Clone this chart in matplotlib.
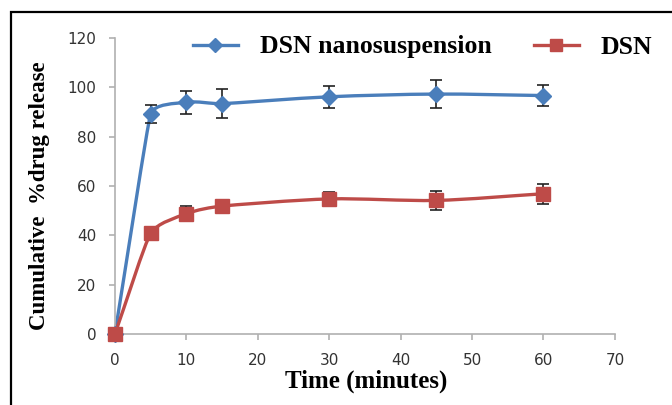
import numpy as np
import matplotlib.pyplot as plt
from matplotlib.path import Path
from matplotlib.patches import PathPatch, Rectangle
from matplotlib.lines import Line2D

time_min = [0, 5, 10, 15, 30, 45, 60]
nano_release = [0, 89.2, 94.0, 93.4, 96.2, 97.3, 96.7]
nano_err = [0, 3.5, 4.6, 6.0, 4.4, 5.6, 4.3]
dsn_release = [0, 40.8, 48.8, 51.9, 54.8, 54.2, 56.9]
dsn_err = [0, 0.0, 3.0, 1.5, 3.0, 4.0, 4.0]

BLUE = '#4a7ebb'
RED = '#be4b48'
SERIF = 'Liberation Serif'


def smooth_path(ax, x, y, k=0.3):
    # smoothed line through the points (cubic Bezier, built in screen space)
    pts = ax.transData.transform(np.column_stack([x, y]).astype(float))
    n = len(pts)
    seg = np.hypot(*np.diff(pts, axis=0).T)

    def tangent(i):
        a = pts[max(i - 1, 0)]
        b = pts[min(i + 1, n - 1)]
        v = b - a
        return v / np.hypot(*v)

    def handle(i):
        near = [seg[j] for j in (i - 1, i) if 0 <= j < n - 1]
        return min(near) * k

    verts = [pts[0]]
    codes = [Path.MOVETO]
    for i in range(n - 1):
        c1 = pts[i] + tangent(i) * min(handle(i), seg[i] / 3)
        c2 = pts[i + 1] - tangent(i + 1) * min(handle(i + 1), seg[i] / 3)
        verts += [c1, c2, pts[i + 1]]
        codes += [Path.CURVE4] * 3
    verts = ax.transData.inverted().transform(np.array(verts))
    return Path(verts, codes)


fig = plt.figure(figsize=(6.72, 4.05), dpi=100)
ax = fig.add_axes([0.171, 0.175, 0.744, 0.731])
ax.set_xlim(0, 70)
ax.set_ylim(0, 120)
ax.set_xticks(range(0, 71, 10))
ax.set_yticks(range(0, 121, 20))

for yv, err, col, mk, ms in [(nano_release, nano_err, BLUE, 'D', 8),
                             (dsn_release, dsn_err, RED, 's', 10)]:
    ax.add_patch(PathPatch(smooth_path(ax, time_min, yv), fill=False,
                           edgecolor=col, lw=2.4, zorder=2))
    ax.errorbar(time_min, yv, yerr=err, fmt='none', ecolor='#222222',
                elinewidth=1.2, capsize=4, capthick=1.2, zorder=3)
    ax.plot(time_min, yv, linestyle='none', marker=mk, ms=ms, color=col,
            zorder=4)

for s in ['top', 'right']:
    ax.spines[s].set_visible(False)
for s in ['left', 'bottom']:
    ax.spines[s].set_color('#b0b0b0')
    ax.spines[s].set_linewidth(1.2)
ax.tick_params(direction='out', length=4.5, color='#b0b0b0', width=1.2,
               labelsize=11, labelcolor='#333333', pad=9)
for art in ax.get_children():
    art.set_clip_on(False)

ax.set_xlabel('Time (minutes)', fontfamily=SERIF, fontweight='bold',
              fontsize=18, va='top')
ax.xaxis.set_label_coords(366/672, 1 - 370/405, transform=fig.transFigure)
ax.set_ylabel('Cumulative  %drug release', fontfamily=SERIF,
              fontweight='bold', fontsize=16.5)
ax.yaxis.set_label_coords(50/672, 1 - 196/405, transform=fig.transFigure)

handles = [Line2D([], [], color=BLUE, lw=2.4, marker='D', ms=7),
           Line2D([], [], color=RED, lw=2.4, marker='s', ms=9)]
ax.legend(handles, ['DSN nanosuspension', 'DSN'], ncol=2, frameon=False,
          loc='center left', bbox_to_anchor=(193/672, 1 - 47/405),
          bbox_transform=fig.transFigure, borderaxespad=0, borderpad=0,
          handlelength=1.75, handletextpad=0.86, columnspacing=1.63,
          prop={'family': SERIF, 'weight': 'bold', 'size': 18.5})

fig.patches.append(Rectangle((11/672, -0.2), 1.2, 1 - 12/405 + 0.2,
                             transform=fig.transFigure, fill=False,
                             edgecolor='black', lw=1.6))

fig.savefig('out.png', dpi=100)
